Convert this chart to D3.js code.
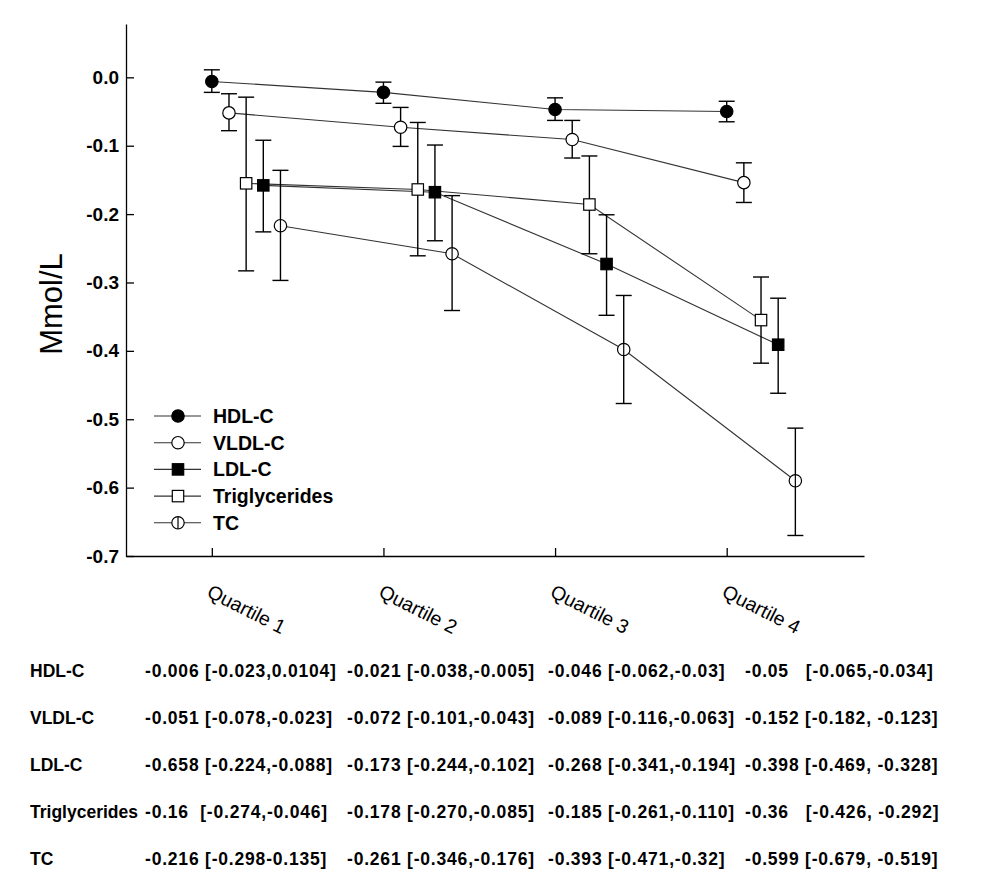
<!DOCTYPE html>
<html>
<head>
<meta charset="utf-8">
<script src="https://cdn.jsdelivr.net/npm/d3@7"></script>
<style>
  html, body { margin: 0; padding: 0; background: #fff; }
  svg { display: block; }
  text { font-family: "Liberation Sans", Arial, Helvetica, sans-serif; fill: #000; }
</style>
</head>
<body>
<svg id="chart" width="986" height="885"></svg>
<script>
// ---------------- data ----------------
const categories = ["Quartile 1", "Quartile 2", "Quartile 3", "Quartile 4"];
const seriesNames = ["HDL-C", "VLDL-C", "LDL-C", "Triglycerides", "TC"];

// plotted means and error-bar limits
const hdlMean  = [-0.006, -0.022, -0.047, -0.050];
const hdlLow   = [-0.022, -0.038, -0.063, -0.065];
const hdlHigh  = [ 0.011, -0.007, -0.030, -0.035];

const vldlMean = [-0.052, -0.073, -0.091, -0.154];
const vldlLow  = [-0.078, -0.101, -0.118, -0.183];
const vldlHigh = [-0.024, -0.044, -0.063, -0.125];

const ldlMean  = [-0.158, -0.168, -0.273, -0.391];
const ldlLow   = [-0.226, -0.239, -0.348, -0.462];
const ldlHigh  = [-0.092, -0.099, -0.201, -0.323];

const trigMean = [-0.155, -0.164, -0.186, -0.355];
const trigLow  = [-0.283, -0.261, -0.258, -0.418];
const trigHigh = [-0.029, -0.066, -0.115, -0.292];

const tcMean   = [-0.217, -0.258, -0.398, -0.590];
const tcLow    = [-0.297, -0.341, -0.477, -0.670];
const tcHigh   = [-0.136, -0.173, -0.319, -0.513];

const yTicks = [0.0, -0.1, -0.2, -0.3, -0.4, -0.5, -0.6, -0.7];
const yLabel = "Mmol/L";

// table text below the chart
const tableHDL  = ["-0.006 [-0.023,0.0104]", "-0.021 [-0.038,-0.005]", "-0.046 [-0.062,-0.03]", "-0.05   [-0.065,-0.034]"];
const tableVLDL = ["-0.051 [-0.078,-0.023]", "-0.072 [-0.101,-0.043]", "-0.089 [-0.116,-0.063]", "-0.152 [-0.182, -0.123]"];
const tableLDL  = ["-0.658 [-0.224,-0.088]", "-0.173 [-0.244,-0.102]", "-0.268 [-0.341,-0.194]", "-0.398 [-0.469, -0.328]"];
const tableTrig = ["-0.16  [-0.274,-0.046]", "-0.178 [-0.270,-0.085]", "-0.185 [-0.261,-0.110]", "-0.36   [-0.426, -0.292]"];
const tableTC   = ["-0.216 [-0.298-0.135]", "-0.261 [-0.346,-0.176]", "-0.393 [-0.471,-0.32]", "-0.599 [-0.679, -0.519]"];

// ---------------- build ----------------
const series = [
  { name: "HDL-C",         mean: hdlMean,  low: hdlLow,  high: hdlHigh,  table: tableHDL  },
  { name: "VLDL-C",        mean: vldlMean, low: vldlLow, high: vldlHigh, table: tableVLDL },
  { name: "LDL-C",         mean: ldlMean,  low: ldlLow,  high: ldlHigh,  table: tableLDL  },
  { name: "Triglycerides", mean: trigMean, low: trigLow, high: trigHigh, table: tableTrig },
  { name: "TC",            mean: tcMean,   low: tcLow,   high: tcHigh,   table: tableTC   }
];
// marker style and horizontal slot (dodge) per series
const style = {
  "HDL-C":         { slot: 0, shape: "circle", fill: "#000" },
  "VLDL-C":        { slot: 1, shape: "circle", fill: "#fff" },
  "Triglycerides": { slot: 2, shape: "square", fill: "#fff" },
  "LDL-C":         { slot: 3, shape: "square", fill: "#000" },
  "TC":            { slot: 4, shape: "halfcircle", fill: "#fff" }
};

const svg = d3.select("#chart");
const FONT = '"Liberation Sans", Arial, Helvetica, sans-serif';

const x = d3.scaleLinear().domain([0.5, 4.8]).range([126, 864]);
const y = d3.scaleLinear().domain([-0.7, 0.078]).range([556, 24]);
const dodge = 0.1;
const px = (s, i) => x(i + 1 + style[s.name].slot * dodge);

// axes
const yAxis = d3.axisLeft(y).tickValues(yTicks).tickSize(-8).tickSizeOuter(0).tickPadding(7)
  .tickFormat(d => d3.format(".1f")(d).replace("\u2212", "-"));
const gy = svg.append("g").attr("transform", "translate(126,0)").call(yAxis);
gy.selectAll("path, line").attr("stroke", "#000").attr("stroke-width", 1.3);
gy.selectAll("text").style("font-family", FONT).style("font-size", "19px").style("font-weight", "bold").attr("fill", "#000");

const xAxis = d3.axisBottom(x).tickValues(categories.map((c, i) => i + 1)).tickSize(-8).tickSizeOuter(0).tickFormat("");
const gx = svg.append("g").attr("transform", "translate(0,556)").call(xAxis);
gx.selectAll("path, line").attr("stroke", "#000").attr("stroke-width", 1.3);

// rotated category labels
svg.append("g").selectAll("text").data(categories).join("text")
  .attr("transform", (d, i) => `translate(${x(i + 1) - 6},596) rotate(27)`)
  .style("font-size", "19.5px")
  .text(d => d);

// y label
svg.append("text")
  .attr("transform", "translate(62,304) rotate(-90)")
  .attr("text-anchor", "middle")
  .style("font-size", "31px")
  .text(yLabel);

// connecting lines
const lineGen = d3.line();
series.forEach(s => {
  svg.append("path")
    .attr("d", lineGen(s.mean.map((v, i) => [px(s, i), y(v)])))
    .attr("fill", "none").attr("stroke", "#333").attr("stroke-width", 1.1);
});

// error bars
const cap = 8;
series.forEach(s => {
  const g = svg.append("g").attr("stroke", "#000").attr("stroke-width", 1.4);
  s.mean.forEach((v, i) => {
    const cx = px(s, i);
    g.append("line").attr("x1", cx).attr("x2", cx).attr("y1", y(s.high[i])).attr("y2", y(s.low[i]));
    g.append("line").attr("x1", cx - cap).attr("x2", cx + cap).attr("y1", y(s.high[i])).attr("y2", y(s.high[i]));
    g.append("line").attr("x1", cx - cap).attr("x2", cx + cap).attr("y1", y(s.low[i])).attr("y2", y(s.low[i]));
  });
});

// markers
function marker(g, name, cx, cy) {
  const st = style[name];
  if (st.shape === "circle" || st.shape === "halfcircle") {
    g.append("circle").attr("cx", cx).attr("cy", cy).attr("r", 6.2)
      .attr("fill", st.fill).attr("stroke", "#000").attr("stroke-width", 1.2);
    if (st.shape === "halfcircle") {
      g.append("line").attr("x1", cx).attr("x2", cx).attr("y1", cy - 6.2).attr("y2", cy + 6.2)
        .attr("stroke", "#000").attr("stroke-width", 1.2);
    }
  } else {
    const h = 5.7;
    g.append("rect").attr("x", cx - h).attr("y", cy - h).attr("width", 2 * h).attr("height", 2 * h)
      .attr("fill", st.fill).attr("stroke", "#000").attr("stroke-width", 1.2);
  }
}
series.forEach(s => {
  const g = svg.append("g");
  s.mean.forEach((v, i) => marker(g, s.name, px(s, i), y(v)));
});

// legend
const legend = svg.append("g");
seriesNames.forEach((n, i) => {
  const ly = 416 + i * 26.7;
  legend.append("line").attr("x1", 154).attr("x2", 201).attr("y1", ly).attr("y2", ly)
    .attr("stroke", "#333").attr("stroke-width", 1.1);
  marker(legend, n, 178, ly);
  legend.append("text").attr("x", 213).attr("y", ly).attr("dy", "0.36em")
    .style("font-size", "19.5px").style("font-weight", "bold").text(n);
});

// table
const colX = [145, 347, 548, 745];
const table = svg.append("g");
series.forEach((s, r) => {
  const ty = 671 + r * 47;
  table.append("text").attr("x", 30).attr("y", ty).attr("dy", "0.36em")
    .style("font-size", "17.5px").style("font-weight", "bold").text(s.name);
  s.table.forEach((t, c) => {
    table.append("text").attr("x", colX[c]).attr("y", ty).attr("dy", "0.36em")
      .style("font-size", "17.5px").style("font-weight", "bold")
      .style("letter-spacing", "0.8px").style("white-space", "pre")
      .text(t);
  });
});
</script>
</body>
</html>
